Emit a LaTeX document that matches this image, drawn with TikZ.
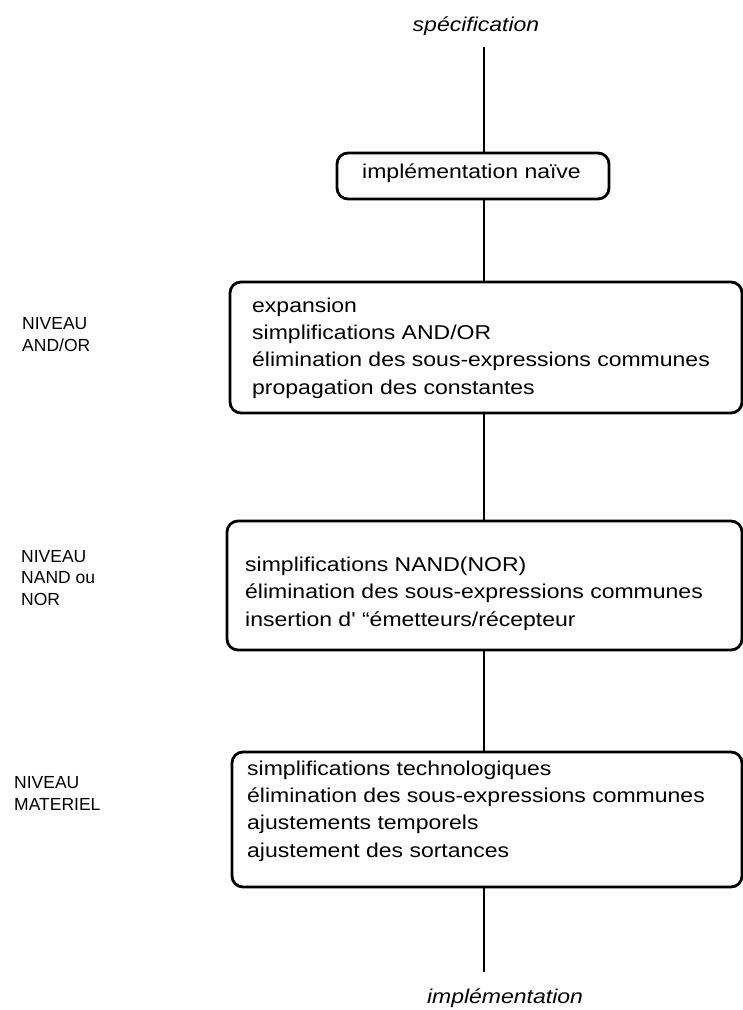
\documentclass[tikz,border=0pt]{standalone}
\usepackage{fontspec}
\setmainfont{Liberation Sans}
\newfontfamily\wide{Liberation Sans}[FakeStretch=1.15]
\begin{document}
\begin{tikzpicture}[x=1pt,y=-1pt,
  box/.style={draw, line width=2.8pt, rounded corners=11pt, inner sep=0pt},
  boxtext/.style={anchor=base west, align=left, inner sep=0pt, font=\wide\fontsize{20}{27.3}\selectfont},
  level/.style={anchor=base west, align=left, inner sep=0pt, font=\fontsize{17.5}{21.5}\selectfont},
  term/.style={anchor=base, inner sep=0pt, font=\wide\itshape\fontsize{20}{24}\selectfont},
  conn/.style={line width=2.8pt}]
\useasboundingbox (0,0) rectangle (743,1010);

% boxes
\node[box, minimum width=272pt, minimum height=46pt] (b1) at (473,176) {};
\node[box, minimum width=512pt, minimum height=131pt] (b2) at (486,347.5) {};
\node[box, minimum width=515pt, minimum height=129pt] (b3) at (484.5,585.5) {};
\node[box, minimum width=510pt, minimum height=135pt] (b4) at (487,819.5) {};

% box texts (anchor = baseline of the last line)
\node[boxtext] (t1) at (362,178) {implémentation naïve};
\node[boxtext] (t2) at (252,394) {expansion\\simplifications AND/OR\\élimination des sous-expressions communes\\propagation des constantes};
\node[boxtext] (t3) at (245,626) {simplifications NAND(NOR)\\élimination des sous-expressions communes\\insertion d' “émetteurs/récepteur};
\node[boxtext] (t4) at (247,857) {simplifications technologiques\\élimination des sous-expressions communes\\ajustements temporels\\ajustement des sortances};

% level labels (anchor = baseline of the last line)
\node[level] (l1) at (22,351) {NIVEAU\\AND/OR};
\node[level] (l2) at (21,605) {NIVEAU\\NAND ou\\NOR};
\node[level] (l3) at (14,810) {NIVEAU\\MATERIEL};

% terminals
\node[term] (spec) at (476,31) {spécification};
\node[term] (impl) at (505,1003) {implémentation};

% connectors
\coordinate (top) at (484,47);
\coordinate (bottom) at (484,972);
\draw[conn] (top) -- (top |- b1.north);
\draw[conn] (top |- b1.south) -- (top |- b2.north);
\draw[conn] (top |- b2.south) -- (top |- b3.north);
\draw[conn] (top |- b3.south) -- (top |- b4.north);
\draw[conn] (top |- b4.south) -- (bottom);
\end{tikzpicture}
\end{document}
